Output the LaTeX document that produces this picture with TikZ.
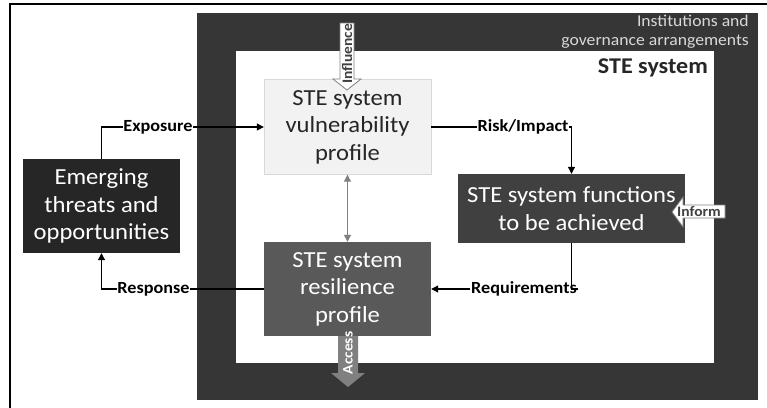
\documentclass[tikz,border=0pt]{standalone}
\usepackage{fontspec}
\setmainfont{Carlito}[FakeStretch=1.07]
\usetikzlibrary{arrows.meta}

\definecolor{govgray}{HTML}{363636}
\definecolor{emerggray}{HTML}{262626}
\definecolor{funcgray}{HTML}{404040}
\definecolor{resilgray}{HTML}{595959}
\definecolor{vulnfill}{HTML}{F2F2F2}
\definecolor{vulnline}{HTML}{D9D9D9}
\definecolor{accgray}{HTML}{808080}
\definecolor{instgray}{HTML}{D9D9D9}

\begin{document}
\begin{tikzpicture}[x=1pt,y=-1pt,
    box/.style={minimum width=167pt, minimum height=95pt, align=center, inner sep=2pt,
      font=\fontsize{23}{27.5}\selectfont},
    lbl/.style={fill=white, inner sep=0.5pt, font=\fontsize{17}{19}\selectfont\bfseries},
    wire/.style={line width=1.1pt},
    arr/.style={-{Triangle[length=7pt,width=7pt]}},
    blk/.style={inner sep=0pt, font=\fontsize{14.5}{16}\selectfont\bfseries}]
    \useasboundingbox (0,0) rectangle (767,407);
    % Marco exterior
    \draw[line width=2pt] (10,410) -- (10,4) -- (770,4);

    % Instituciones
    \fill[govgray] (197,13) rectangle (758,400);
    \fill[white] (236,51) rectangle (714,363);
    \node[anchor=east, align=right, text=instgray, inner sep=0pt,
      font=\fontsize{16.5}{19}\selectfont] (inst) at (749,32) {Institutions and\\governance arrangements};
    \node[anchor=east, inner sep=0pt, text=emerggray,
      font=\fontsize{22.5}{25}\selectfont\bfseries] (ste) at (708,68) {STE system};

    % Cajas
    \node[box, fill=vulnfill, draw=vulnline, text=emerggray] (vuln) at (347.5,127) {STE system\\vulnerability\\profile};
    \node[box, fill=resilgray, text=white, minimum height=94pt] (resil) at (347.5,289) {STE system\\resilience\\profile};
    \node[box, fill=funcgray, text=white, minimum width=227pt, minimum height=69pt] (func) at (571.5,208.5) {STE system functions\\to be achieved};
    \node[box, fill=emerggray, text=white, minimum width=157pt, minimum height=94pt] (emerg) at (101.5,206) {Emerging\\threats and\\opportunities};

    % Etiquetas
    \node[lbl] (expo) at (158,127) {Exposure};
    \node[lbl] (risk) at (523,127) {Risk/Impact};
    \node[lbl] (req) at (524,289) {Requirements};
    \node[lbl] (resp) at (153.5,289) {Response};

    % Conectores
    \draw[wire] (emerg.north) |- (expo.west);
    \draw[wire, arr] (expo.east) -- (vuln.west);
    \draw[wire] (vuln.east) -- (risk.west);
    \draw[wire, arr] (risk.east) -| (func.north);
    \draw[wire] (func.south) |- (req.east);
    \draw[wire, arr] (req.west) -- (resil.east);
    \draw[wire] (resil.west) -- (resp.east);
    \draw[wire, arr] (resp.west) -| (emerg.south);
    \draw[wire, accgray, {Triangle[length=7pt,width=7pt]}-{Triangle[length=7pt,width=7pt]}] (vuln.south) -- (resil.north);

    % Flechas de bloque
    \filldraw[fill=white, draw=gray, line width=0.8pt] (340,23) -- (354,23) -- (354,79) -- (361,79) -- (347,90) -- (333,79) -- (340,79) -- cycle;
    \node[blk, rotate=90, text=funcgray] (infl) at (347,54) {Influence};
    \fill[accgray] (338,336) -- (358,336) -- (358,373) -- (365,373) -- (348,387) -- (331,373) -- (338,373) -- cycle;
    \node[blk, rotate=90, text=white] (acc) at (348,353) {Access};
    \filldraw[fill=white, draw=gray, line width=0.8pt] (725,205) -- (725,218) -- (683,218) -- (683,227) -- (672,212) -- (683,197) -- (683,205) -- cycle;
    \node[blk, text=funcgray] (inf) at (699,211.5) {Inform};
\end{tikzpicture}
\end{document}
